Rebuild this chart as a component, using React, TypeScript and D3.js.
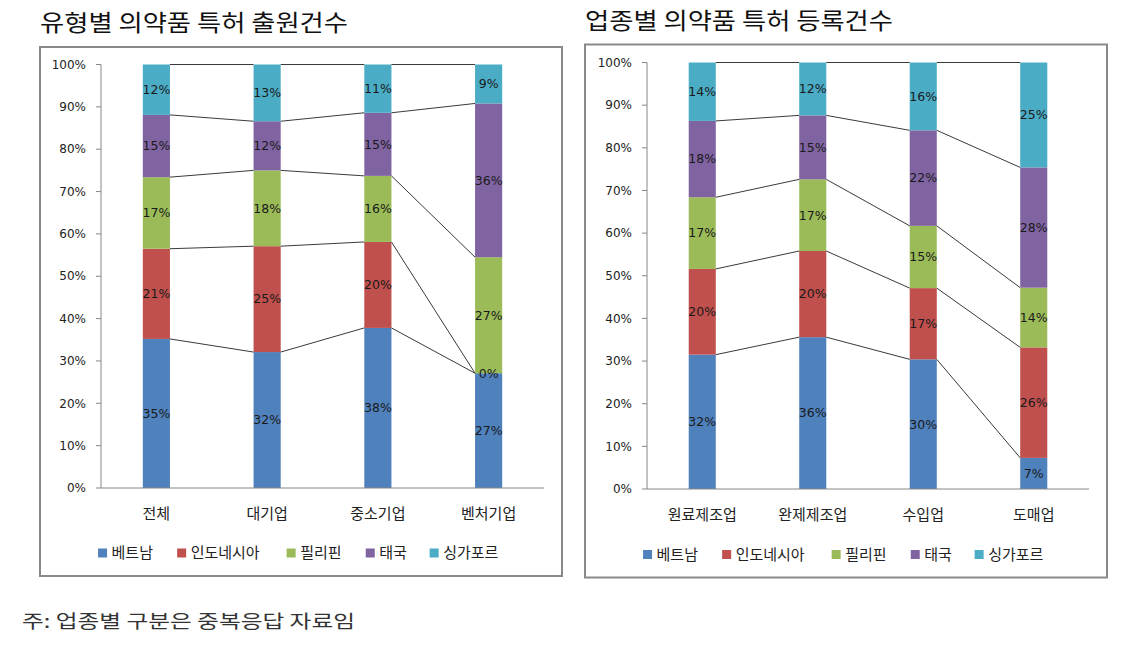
import React from "react";
import * as d3 from "d3";

// 유형별 의약품 특허 출원건수 (%)
const applyCategories = ["전체", "대기업", "중소기업", "벤처기업"];
const applyVietnam = [35.2, 32.1, 37.8, 27.1];
const applyIndonesia = [21.3, 25.0, 20.3, 0];
const applyPhilippines = [16.9, 17.9, 15.6, 27.4];
const applyThailand = [14.7, 11.6, 14.9, 36.3];
const applySingapore = [11.9, 13.4, 11.4, 9.2];

// 업종별 의약품 특허 등록건수 (%)
const registerCategories = ["원료제조업", "완제제조업", "수입업", "도매업"];
const registerVietnam = [31.5, 35.6, 30.4, 7.3];
const registerIndonesia = [20.1, 20.2, 16.7, 25.9];
const registerPhilippines = [16.8, 16.8, 14.6, 14.0];
const registerThailand = [17.9, 15.0, 22.4, 28.2];
const registerSingapore = [13.7, 12.4, 15.9, 24.6];

const seriesNames = ["베트남", "인도네시아", "필리핀", "태국", "싱가포르"];
const seriesColors = ["#4F81BD", "#C0504D", "#9BBB59", "#8064A2", "#4BACC6"];
const yTicks = [0, 10, 20, 30, 40, 50, 60, 70, 80, 90, 100];

const KR = "'Noto Sans CJK KR', 'Noto Sans', sans-serif";
const NUM = "'DejaVu Sans', sans-serif";

type Box = { x: number; y: number; w: number; h: number; plotL: number; plotR: number; plotT: number; plotB: number };

function StackChart({ title, categories, series, box }: { title: string; categories: string[]; series: number[][]; box: Box }) {
  const rows = categories.map((c, i) => {
    const r: any = { cat: c };
    seriesNames.forEach((s, k) => (r[s] = series[k][i]));
    return r;
  });
  const stacked = d3.stack<any>().keys(seriesNames)(rows);

  const x = d3
    .scaleBand()
    .domain(categories)
    .range([box.plotL, box.plotR])
    .paddingInner(0.755)
    .paddingOuter(0.3775);
  const y = d3.scaleLinear().domain([0, 100]).range([box.plotB, box.plotT]);
  const bw = x.bandwidth();

  // legend layout, centered in the box
  const itemW = seriesNames.map((n) => 9 + 4.5 + n.length * 15.2);
  const gap = 20;
  const legendW = d3.sum(itemW) + gap * (seriesNames.length - 1);
  let lx = box.x + (box.w - legendW) / 2;
  const legendX = itemW.map((w) => {
    const p = lx;
    lx += w + gap;
    return p;
  });
  const legendY = box.y + box.h - 23;

  return (
    <g>
      <text x={box.x} y={box.y - 16} fontFamily={KR} fontSize={23} fill="#111" textLength={308} lengthAdjust="spacingAndGlyphs">
        {title}
      </text>
      <rect x={box.x} y={box.y} width={box.w} height={box.h} fill="#fff" stroke="#898989" strokeWidth={2} />

      {/* y axis */}
      <line x1={box.plotL} x2={box.plotL} y1={y(0)} y2={y(100)} stroke="#868686" />
      {yTicks.map((t) => (
        <g key={t}>
          <line x1={box.plotL - 5} x2={box.plotL} y1={y(t)} y2={y(t)} stroke="#868686" />
          <text x={box.plotL - 15} y={y(t)} dy="0.35em" textAnchor="end" fontFamily={NUM} fontSize={12} fill="#222">
            {t}%
          </text>
        </g>
      ))}

      {/* bars */}
      {stacked.map((layer, k) => (
        <g key={layer.key} fill={seriesColors[k]}>
          {layer.map((d, i) => (
            <rect key={i} x={x(categories[i])} y={y(d[1])} width={bw} height={y(d[0]) - y(d[1])} />
          ))}
        </g>
      ))}

      {/* series lines */}
      {stacked.map((layer) => (
        <g key={"sl" + layer.key}>
          {layer.slice(0, -1).map((d, i) => (
            <line
              key={i}
              x1={(x(categories[i]) as number) + bw}
              y1={y(d[1])}
              x2={x(categories[i + 1]) as number}
              y2={y(layer[i + 1][1])}
              stroke="#3a3a3a"
              strokeWidth={1}
            />
          ))}
        </g>
      ))}

      <line x1={box.plotL} x2={box.plotR} y1={y(0)} y2={y(0)} stroke="#868686" />

      {/* data labels */}
      {stacked.map((layer) => (
        <g key={"lb" + layer.key}>
          {layer.map((d, i) => (
            <text
              key={i}
              x={(x(categories[i]) as number) + bw / 2}
              y={(y(d[0]) + y(d[1])) / 2}
              dy="0.35em"
              textAnchor="middle"
              fontFamily={NUM}
              fontSize={12.5}
              fill="#1a1a1a"
            >
              {Math.round(d[1] - d[0])}%
            </text>
          ))}
        </g>
      ))}

      {/* category labels */}
      {categories.map((c) => (
        <text key={c} x={(x(c) as number) + bw / 2} y={box.plotB + 26} dy="0.35em" textAnchor="middle" fontFamily={KR} fontSize={15} fill="#222">
          {c}
        </text>
      ))}

      {/* legend */}
      {seriesNames.map((n, k) => (
        <g key={n}>
          <rect x={legendX[k]} y={legendY - 4.5} width={9} height={9} fill={seriesColors[k]} />
          <text x={legendX[k] + 13.5} y={legendY} dy="0.35em" fontFamily={KR} fontSize={15} fill="#222">
            {n}
          </text>
        </g>
      ))}
    </g>
  );
}

export default function App() {
  return (
    <svg width={1129} height={646} style={{ position: "absolute", left: 0, top: 0, background: "#fff" }}>
      <StackChart
        title="유형별 의약품 특허 출원건수"
        categories={applyCategories}
        series={[applyVietnam, applyIndonesia, applyPhilippines, applyThailand, applySingapore]}
        box={{ x: 40, y: 47, w: 522, h: 529, plotL: 101, plotR: 544, plotT: 64.5, plotB: 488 }}
      />
      <StackChart
        title="업종별 의약품 특허 등록건수"
        categories={registerCategories}
        series={[registerVietnam, registerIndonesia, registerPhilippines, registerThailand, registerSingapore]}
        box={{ x: 585, y: 44.5, w: 522, h: 533, plotL: 647, plotR: 1089, plotT: 62.5, plotB: 489 }}
      />
      <text x={22} y={622} dy="0.35em" fontFamily={KR} fontSize={18} fill="#333" textLength={333} lengthAdjust="spacingAndGlyphs">
        주: 업종별 구분은 중복응답 자료임
      </text>
    </svg>
  );
}
